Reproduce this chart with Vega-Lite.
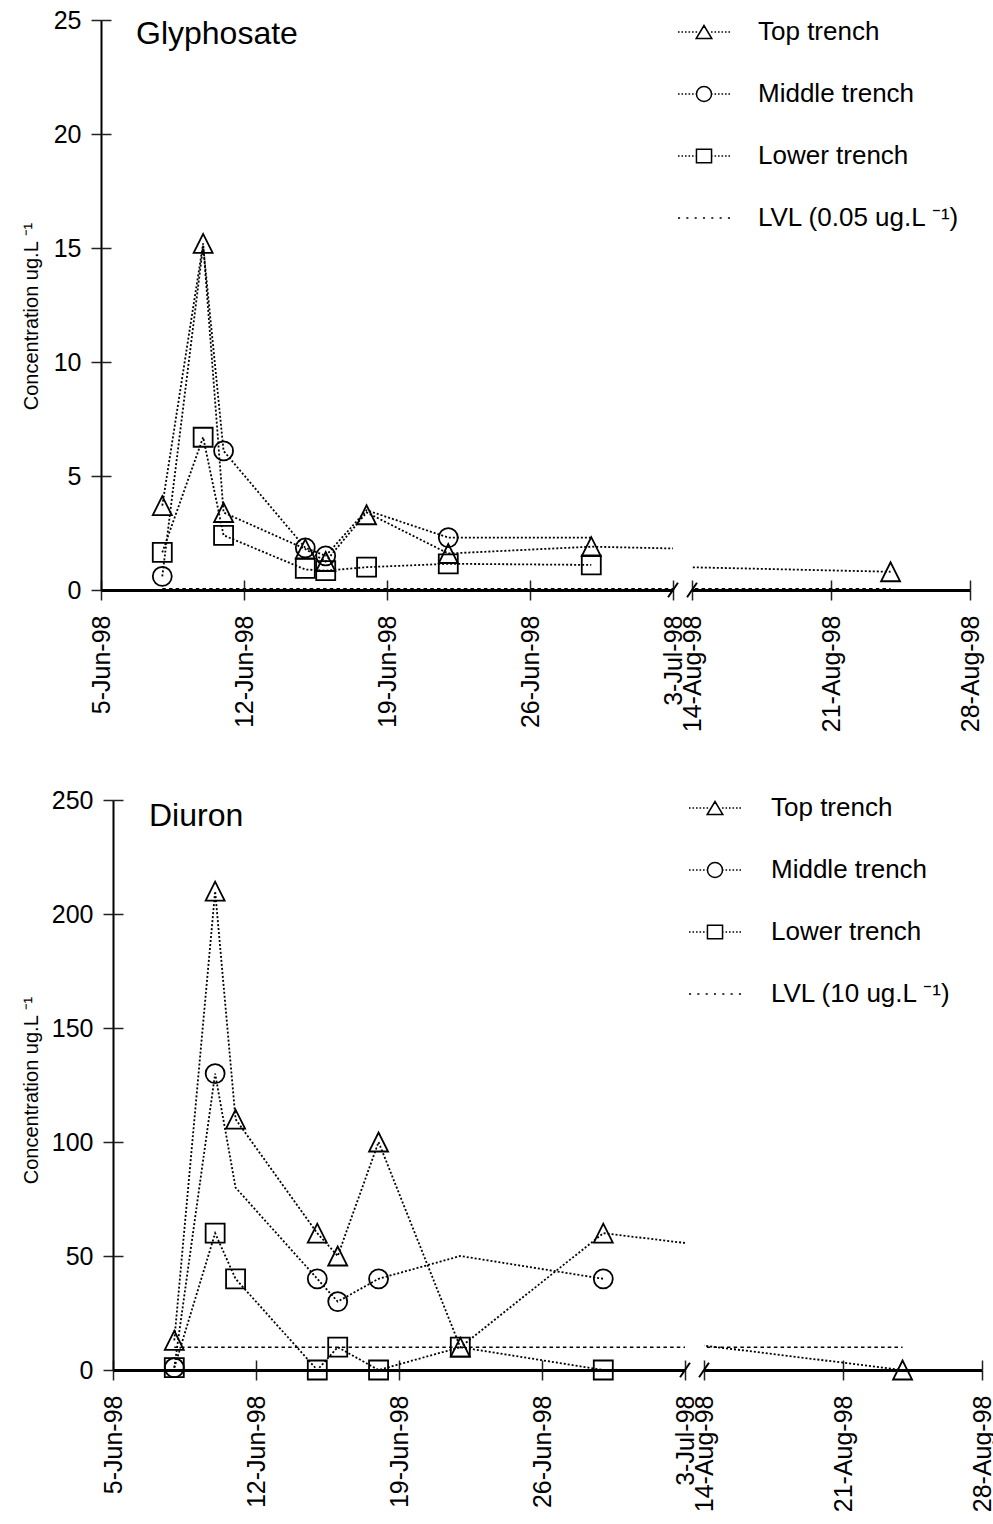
{
  "$schema": "https://vega.github.io/schema/vega-lite/v6.json",
  "background": "white",
  "padding": {"left": 21, "top": 5, "right": 0, "bottom": 0},
  "config": {
    "font": "Liberation Sans",
    "view": {"stroke": null},
    "axis": {
      "labelFont": "Liberation Sans", "labelFontSize": 25, "labelColor": "black",
      "domainColor": "black", "tickColor": "#222", "tickWidth": 1.5, "tickSize": 10,
      "grid": false, "titleFont": "Liberation Sans", "titleFontWeight": "normal", "titleColor": "black"
    },
    "legend": {"labelFont": "Liberation Sans", "labelFontSize": 26, "labelColor": "black", "labelLimit": 500}
  },
  "datasets": {
    "gly_lines": [
      {"series": "Top trench", "date": "1998-06-08", "value": 3.7},
      {"series": "Top trench", "date": "1998-06-10", "value": 15.2},
      {"series": "Top trench", "date": "1998-06-11", "value": 3.4},
      {"series": "Top trench", "date": "1998-06-15", "value": 1.8},
      {"series": "Top trench", "date": "1998-06-16", "value": 1.25},
      {"series": "Top trench", "date": "1998-06-18", "value": 3.4},
      {"series": "Top trench", "date": "1998-06-22", "value": 1.6},
      {"series": "Top trench", "date": "1998-06-29", "value": 1.9},
      {"series": "Top trench", "date": "1998-08-24", "value": 0.8},
      {"series": "Middle trench", "date": "1998-06-08", "value": 0.6},
      {"series": "Middle trench", "date": "1998-06-10", "value": 15.1},
      {"series": "Middle trench", "date": "1998-06-11", "value": 6.1},
      {"series": "Middle trench", "date": "1998-06-15", "value": 1.85},
      {"series": "Middle trench", "date": "1998-06-16", "value": 1.5},
      {"series": "Middle trench", "date": "1998-06-18", "value": 3.5},
      {"series": "Middle trench", "date": "1998-06-22", "value": 2.3},
      {"series": "Middle trench", "date": "1998-06-29", "value": 2.3},
      {"series": "Lower trench", "date": "1998-06-08", "value": 1.65},
      {"series": "Lower trench", "date": "1998-06-10", "value": 6.7},
      {"series": "Lower trench", "date": "1998-06-11", "value": 2.4},
      {"series": "Lower trench", "date": "1998-06-15", "value": 0.9},
      {"series": "Lower trench", "date": "1998-06-16", "value": 0.85},
      {"series": "Lower trench", "date": "1998-06-18", "value": 1.0},
      {"series": "Lower trench", "date": "1998-06-22", "value": 1.15},
      {"series": "Lower trench", "date": "1998-06-29", "value": 1.1}
    ],
    "gly_markers": [
      {"series": "Top trench", "date": "1998-06-08", "value": 3.7},
      {"series": "Top trench", "date": "1998-06-10", "value": 15.2},
      {"series": "Top trench", "date": "1998-06-11", "value": 3.4},
      {"series": "Top trench", "date": "1998-06-15", "value": 1.8},
      {"series": "Top trench", "date": "1998-06-16", "value": 1.25},
      {"series": "Top trench", "date": "1998-06-18", "value": 3.3},
      {"series": "Top trench", "date": "1998-06-22", "value": 1.6},
      {"series": "Top trench", "date": "1998-06-29", "value": 1.9},
      {"series": "Top trench", "date": "1998-08-24", "value": 0.8},
      {"series": "Middle trench", "date": "1998-06-08", "value": 0.6},
      {"series": "Middle trench", "date": "1998-06-11", "value": 6.1},
      {"series": "Middle trench", "date": "1998-06-15", "value": 1.85},
      {"series": "Middle trench", "date": "1998-06-16", "value": 1.5},
      {"series": "Middle trench", "date": "1998-06-22", "value": 2.3},
      {"series": "Lower trench", "date": "1998-06-08", "value": 1.65},
      {"series": "Lower trench", "date": "1998-06-10", "value": 6.7},
      {"series": "Lower trench", "date": "1998-06-11", "value": 2.4},
      {"series": "Lower trench", "date": "1998-06-15", "value": 0.95},
      {"series": "Lower trench", "date": "1998-06-16", "value": 0.85},
      {"series": "Lower trench", "date": "1998-06-18", "value": 1.0},
      {"series": "Lower trench", "date": "1998-06-22", "value": 1.15},
      {"series": "Lower trench", "date": "1998-06-29", "value": 1.1}
    ],
    "gly_lvl": [
      {"series": "LVL (0.05 ug.L ⁻¹)", "date": "1998-06-08", "value": 0.05},
      {"series": "LVL (0.05 ug.L ⁻¹)", "date": "1998-08-24", "value": 0.05}
    ],
    "diu_lines": [
      {"series": "Top trench", "date": "1998-06-08", "value": 13},
      {"series": "Top trench", "date": "1998-06-10", "value": 210},
      {"series": "Top trench", "date": "1998-06-11", "value": 110},
      {"series": "Top trench", "date": "1998-06-15", "value": 60},
      {"series": "Top trench", "date": "1998-06-16", "value": 50},
      {"series": "Top trench", "date": "1998-06-18", "value": 100},
      {"series": "Top trench", "date": "1998-06-22", "value": 10},
      {"series": "Top trench", "date": "1998-06-29", "value": 60},
      {"series": "Top trench", "date": "1998-08-24", "value": 0},
      {"series": "Middle trench", "date": "1998-06-08", "value": 1},
      {"series": "Middle trench", "date": "1998-06-10", "value": 130},
      {"series": "Middle trench", "date": "1998-06-11", "value": 80},
      {"series": "Middle trench", "date": "1998-06-15", "value": 40},
      {"series": "Middle trench", "date": "1998-06-16", "value": 30},
      {"series": "Middle trench", "date": "1998-06-18", "value": 40},
      {"series": "Middle trench", "date": "1998-06-22", "value": 50},
      {"series": "Middle trench", "date": "1998-06-29", "value": 40},
      {"series": "Lower trench", "date": "1998-06-08", "value": 1},
      {"series": "Lower trench", "date": "1998-06-10", "value": 60},
      {"series": "Lower trench", "date": "1998-06-11", "value": 40},
      {"series": "Lower trench", "date": "1998-06-15", "value": 0},
      {"series": "Lower trench", "date": "1998-06-16", "value": 10},
      {"series": "Lower trench", "date": "1998-06-18", "value": 0},
      {"series": "Lower trench", "date": "1998-06-22", "value": 10},
      {"series": "Lower trench", "date": "1998-06-29", "value": 0}
    ],
    "diu_markers": [
      {"series": "Top trench", "date": "1998-06-08", "value": 13},
      {"series": "Top trench", "date": "1998-06-10", "value": 210},
      {"series": "Top trench", "date": "1998-06-11", "value": 110},
      {"series": "Top trench", "date": "1998-06-15", "value": 60},
      {"series": "Top trench", "date": "1998-06-16", "value": 50},
      {"series": "Top trench", "date": "1998-06-18", "value": 100},
      {"series": "Top trench", "date": "1998-06-22", "value": 10},
      {"series": "Top trench", "date": "1998-06-29", "value": 60},
      {"series": "Top trench", "date": "1998-08-24", "value": 0},
      {"series": "Middle trench", "date": "1998-06-08", "value": 1},
      {"series": "Middle trench", "date": "1998-06-10", "value": 130},
      {"series": "Middle trench", "date": "1998-06-15", "value": 40},
      {"series": "Middle trench", "date": "1998-06-16", "value": 30},
      {"series": "Middle trench", "date": "1998-06-18", "value": 40},
      {"series": "Middle trench", "date": "1998-06-29", "value": 40},
      {"series": "Lower trench", "date": "1998-06-08", "value": 1},
      {"series": "Lower trench", "date": "1998-06-10", "value": 60},
      {"series": "Lower trench", "date": "1998-06-11", "value": 40},
      {"series": "Lower trench", "date": "1998-06-15", "value": 0},
      {"series": "Lower trench", "date": "1998-06-16", "value": 10},
      {"series": "Lower trench", "date": "1998-06-18", "value": 0},
      {"series": "Lower trench", "date": "1998-06-22", "value": 10},
      {"series": "Lower trench", "date": "1998-06-29", "value": 0}
    ],
    "diu_lvl": [
      {"series": "LVL (10 ug.L ⁻¹)", "date": "1998-06-08", "value": 10},
      {"series": "LVL (10 ug.L ⁻¹)", "date": "1998-08-24", "value": 10}
    ]
  },
  "concat": [
    {
      "hconcat": [
        {"width": 1, "height": 1, "data": {"values": []}, "mark": {"type": "point"}},
        {
          "width": 572, "height": 570,
          "title": {"text": "Glyphosate", "anchor": "start", "frame": "group", "dx": 35, "offset": -68, "baseline": "alphabetic", "fontSize": 32, "fontWeight": "normal", "color": "black", "font": "Liberation Sans"},
          "layer": [
            {
              "data": {"name": "gly_lines"},
              "mark": {"type": "line", "clip": true, "color": "black", "strokeWidth": 1.8, "strokeDash": [2, 2]},
              "encoding": {
                "x": {"field": "date", "type": "temporal",
                  "scale": {"type": "utc", "domain": [{"year": 1998, "month": 6, "date": 5, "utc": true}, {"year": 1998, "month": 7, "date": 3, "utc": true}]},
                  "axis": {"values": [{"year": 1998, "month": 6, "date": 5, "utc": true}, {"year": 1998, "month": 6, "date": 12, "utc": true}, {"year": 1998, "month": 6, "date": 19, "utc": true}, {"year": 1998, "month": 6, "date": 26, "utc": true}, {"year": 1998, "month": 7, "date": 3, "utc": true}],
                    "labelExpr": "utcFormat(datum.value, '%-d-%b-%y')", "labelAngle": -90, "labelFlush": false, "labelOverlap": false, "labelBound": false, "labelPadding": 15, "title": null, "domainWidth": 3}},
                "y": {"field": "value", "type": "quantitative",
                  "scale": {"domain": [0, 25], "nice": false},
                  "axis": {"values": [0, 5, 10, 15, 20, 25], "title": "Concentration ug.L ⁻¹", "titleFontSize": 20, "titlePadding": 12, "titleY": 296, "domainWidth": 2, "labelPadding": 10, "labelFlush": false, "labelOverlap": false}},
                "detail": {"field": "series"}
              }
            },
            {
              "data": {"name": "gly_lvl"},
              "mark": {"type": "line", "clip": true, "color": "black", "strokeWidth": 1.5, "strokeDash": [3.5, 3.2]},
              "encoding": {
                "x": {"field": "date", "type": "temporal",
                  "axis": {"orient": "bottom", "offset": -10, "domain": false, "labels": false, "tickSize": 10, "title": null, "values": [{"year": 1998, "month": 6, "date": 5, "utc": true}, {"year": 1998, "month": 6, "date": 12, "utc": true}, {"year": 1998, "month": 6, "date": 19, "utc": true}, {"year": 1998, "month": 6, "date": 26, "utc": true}, {"year": 1998, "month": 7, "date": 3, "utc": true}]}},
                "y": {"field": "value", "type": "quantitative",
                  "axis": {"orient": "left", "offset": -10, "domain": false, "labels": false, "tickSize": 10, "title": null, "values": [5, 10, 15, 20, 25]}}
              }
            },
            {
              "data": {"name": "gly_markers"},
              "transform": [{"filter": {"field": "date", "lte": {"year": 1998, "month": 7, "date": 3, "utc": true}}}],
              "mark": {"type": "point", "filled": false, "size": 361, "color": "black", "strokeWidth": 1.8, "opacity": 1},
              "encoding": {
                "x": {"field": "date", "type": "temporal", "axis": null},
                "y": {"field": "value", "type": "quantitative", "axis": null},
                "shape": {"field": "series", "type": "nominal", "scale": {"domain": ["Top trench", "Middle trench", "Lower trench"], "range": ["M0,-1L-1,1L1,1Z", "circle", "square"]}, "legend": null}
              }
            },
            {
              "data": {"values": [{}]},
              "mark": {"type": "point", "shape": "M-0.55,0.8L0.55,-0.8", "size": 324, "color": "black", "strokeWidth": 2, "filled": false, "opacity": 1},
              "encoding": {
                "x": {"datum": {"year": 1998, "month": 7, "date": 3, "utc": true}, "type": "temporal", "axis": null},
                "y": {"datum": 0, "type": "quantitative", "axis": null}
              }
            }
          ],
          "resolve": {"axis": {"x": "independent", "y": "independent"}}
        },
        {
          "width": 278, "height": 570,
          "layer": [
            {
              "data": {"name": "gly_lines"},
              "mark": {"type": "line", "clip": true, "color": "black", "strokeWidth": 1.8, "strokeDash": [2, 2]},
              "encoding": {
                "x": {"field": "date", "type": "temporal",
                  "scale": {"type": "utc", "domain": [{"year": 1998, "month": 8, "date": 14, "utc": true}, {"year": 1998, "month": 8, "date": 28, "utc": true}]},
                  "axis": {"values": [{"year": 1998, "month": 8, "date": 14, "utc": true}, {"year": 1998, "month": 8, "date": 21, "utc": true}, {"year": 1998, "month": 8, "date": 28, "utc": true}],
                    "labelExpr": "utcFormat(datum.value, '%-d-%b-%y')", "labelAngle": -90, "labelFlush": false, "labelOverlap": false, "labelBound": false, "labelPadding": 15, "title": null, "domainWidth": 3}},
                "y": {"field": "value", "type": "quantitative", "scale": {"domain": [0, 25], "nice": false}, "axis": null},
                "detail": {"field": "series"}
              }
            },
            {
              "data": {"name": "gly_lvl"},
              "mark": {"type": "line", "clip": true, "color": "black", "strokeWidth": 1.5, "strokeDash": [3.5, 3.2]},
              "encoding": {
                "x": {"field": "date", "type": "temporal",
                  "axis": {"orient": "bottom", "offset": -10, "domain": false, "labels": false, "tickSize": 10, "title": null, "values": [{"year": 1998, "month": 8, "date": 14, "utc": true}, {"year": 1998, "month": 8, "date": 21, "utc": true}, {"year": 1998, "month": 8, "date": 28, "utc": true}]}},
                "y": {"field": "value", "type": "quantitative", "axis": null}
              }
            },
            {
              "data": {"name": "gly_markers"},
              "transform": [{"filter": {"field": "date", "gte": {"year": 1998, "month": 8, "date": 14, "utc": true}}}],
              "mark": {"type": "point", "filled": false, "size": 361, "color": "black", "strokeWidth": 1.8, "opacity": 1},
              "encoding": {
                "x": {"field": "date", "type": "temporal", "axis": null},
                "y": {"field": "value", "type": "quantitative", "axis": null},
                "shape": {"field": "series", "type": "nominal", "scale": {"domain": ["Top trench", "Middle trench", "Lower trench"], "range": ["M0,-1L-1,1L1,1Z", "circle", "square"]}, "legend": null}
              }
            },
            {
              "data": {"values": []},
              "mark": {"type": "point", "filled": false, "color": "black", "strokeWidth": 1.4, "opacity": 1},
              "encoding": {
                "shape": {"field": "series", "type": "nominal",
                  "scale": {"domain": ["Top trench", "Middle trench", "Lower trench", "LVL (0.05 ug.L ⁻¹)"],
                    "range": [
                      "M-1,0h0.06M-0.865,0h0.06M-0.73,0h0.06M-0.595,0h0.06M-0.46,0h0.06M-0.325,0h0.06M0.27,0h0.06M0.405,0h0.06M0.54,0h0.06M0.675,0h0.06M0.81,0h0.06M0.94,0h0.06M0,-0.25L-0.3,0.25L0.3,0.25Z",
                      "M-1,0h0.06M-0.865,0h0.06M-0.73,0h0.06M-0.595,0h0.06M-0.46,0h0.06M-0.325,0h0.06M0.27,0h0.06M0.405,0h0.06M0.54,0h0.06M0.675,0h0.06M0.81,0h0.06M0.94,0h0.06M0.29,0A0.29,0.29,0,1,1,-0.29,0A0.29,0.29,0,1,1,0.29,0Z",
                      "M-1,0h0.06M-0.865,0h0.06M-0.73,0h0.06M-0.595,0h0.06M-0.46,0h0.06M-0.325,0h0.06M0.27,0h0.06M0.405,0h0.06M0.54,0h0.06M0.675,0h0.06M0.81,0h0.06M0.94,0h0.06M-0.29,-0.26H0.29V0.26H-0.29Z",
                      "M-1,0h0.08M-0.68,0h0.08M-0.36,0h0.08M-0.04,0h0.08M0.28,0h0.08M0.6,0h0.08M0.92,0h0.08"
                    ]},
                  "legend": {"title": null, "orient": "none", "legendX": -15, "legendY": -15, "padding": 0, "symbolSize": 2704, "labelOffset": 27, "rowPadding": 22,
                    "encode": {"symbols": {"update": {"size": {"value": 2704}, "stroke": {"value": "black"}, "fill": {"value": "transparent"}, "strokeWidth": {"value": 1.4}, "opacity": {"value": 1}}}}}
                }
              }
            },
            {
              "data": {"values": [{}]},
              "mark": {"type": "point", "shape": "M-0.55,0.8L0.55,-0.8", "size": 324, "color": "black", "strokeWidth": 2, "filled": false, "opacity": 1},
              "encoding": {
                "x": {"datum": {"year": 1998, "month": 8, "date": 14, "utc": true}, "type": "temporal", "axis": null},
                "y": {"datum": 0, "type": "quantitative", "axis": null}
              }
            }
          ],
          "resolve": {"axis": {"x": "independent", "y": "independent"}, "scale": {"shape": "independent"}}
        }
      ],
      "spacing": 19,
      "bounds": "flush",
      "resolve": {"scale": {"x": "independent", "y": "independent", "shape": "independent"}, "legend": {"shape": "independent"}}
    },
    {
      "hconcat": [
        {"width": 13, "height": 1, "data": {"values": []}, "mark": {"type": "point"}},
        {
          "width": 572, "height": 570,
          "title": {"text": "Diuron", "anchor": "start", "frame": "group", "dx": 36, "offset": -70, "baseline": "alphabetic", "fontSize": 32, "fontWeight": "normal", "color": "black", "font": "Liberation Sans"},
          "layer": [
            {
              "data": {"name": "diu_lines"},
              "mark": {"type": "line", "clip": true, "color": "black", "strokeWidth": 1.8, "strokeDash": [2, 2]},
              "encoding": {
                "x": {"field": "date", "type": "temporal",
                  "scale": {"type": "utc", "domain": [{"year": 1998, "month": 6, "date": 5, "utc": true}, {"year": 1998, "month": 7, "date": 3, "utc": true}]},
                  "axis": {"values": [{"year": 1998, "month": 6, "date": 5, "utc": true}, {"year": 1998, "month": 6, "date": 12, "utc": true}, {"year": 1998, "month": 6, "date": 19, "utc": true}, {"year": 1998, "month": 6, "date": 26, "utc": true}, {"year": 1998, "month": 7, "date": 3, "utc": true}],
                    "labelExpr": "utcFormat(datum.value, '%-d-%b-%y')", "labelAngle": -90, "labelFlush": false, "labelOverlap": false, "labelBound": false, "labelPadding": 15, "title": null, "domainWidth": 3}},
                "y": {"field": "value", "type": "quantitative",
                  "scale": {"domain": [0, 250], "nice": false},
                  "axis": {"values": [0, 50, 100, 150, 200, 250], "title": "Concentration ug.L ⁻¹", "titleFontSize": 20, "titlePadding": 10, "titleY": 290, "domainWidth": 2, "labelPadding": 10, "labelFlush": false, "labelOverlap": false}},
                "detail": {"field": "series"}
              }
            },
            {
              "data": {"name": "diu_lvl"},
              "mark": {"type": "line", "clip": true, "color": "black", "strokeWidth": 1.5, "strokeDash": [3.5, 3.2]},
              "encoding": {
                "x": {"field": "date", "type": "temporal",
                  "axis": {"orient": "bottom", "offset": -10, "domain": false, "labels": false, "tickSize": 10, "title": null, "values": [{"year": 1998, "month": 6, "date": 5, "utc": true}, {"year": 1998, "month": 6, "date": 12, "utc": true}, {"year": 1998, "month": 6, "date": 19, "utc": true}, {"year": 1998, "month": 6, "date": 26, "utc": true}, {"year": 1998, "month": 7, "date": 3, "utc": true}]}},
                "y": {"field": "value", "type": "quantitative",
                  "axis": {"orient": "left", "offset": -10, "domain": false, "labels": false, "tickSize": 10, "title": null, "values": [50, 100, 150, 200, 250]}}
              }
            },
            {
              "data": {"name": "diu_markers"},
              "transform": [{"filter": {"field": "date", "lte": {"year": 1998, "month": 7, "date": 3, "utc": true}}}],
              "mark": {"type": "point", "filled": false, "size": 361, "color": "black", "strokeWidth": 1.8, "opacity": 1},
              "encoding": {
                "x": {"field": "date", "type": "temporal", "axis": null},
                "y": {"field": "value", "type": "quantitative", "axis": null},
                "shape": {"field": "series", "type": "nominal", "scale": {"domain": ["Top trench", "Middle trench", "Lower trench"], "range": ["M0,-1L-1,1L1,1Z", "circle", "square"]}, "legend": null}
              }
            },
            {
              "data": {"values": [{}]},
              "mark": {"type": "point", "shape": "M-0.55,0.8L0.55,-0.8", "size": 324, "color": "black", "strokeWidth": 2, "filled": false, "opacity": 1},
              "encoding": {
                "x": {"datum": {"year": 1998, "month": 7, "date": 3, "utc": true}, "type": "temporal", "axis": null},
                "y": {"datum": 0, "type": "quantitative", "axis": null}
              }
            }
          ],
          "resolve": {"axis": {"x": "independent", "y": "independent"}}
        },
        {
          "width": 278, "height": 570,
          "layer": [
            {
              "data": {"name": "diu_lines"},
              "mark": {"type": "line", "clip": true, "color": "black", "strokeWidth": 1.8, "strokeDash": [2, 2]},
              "encoding": {
                "x": {"field": "date", "type": "temporal",
                  "scale": {"type": "utc", "domain": [{"year": 1998, "month": 8, "date": 14, "utc": true}, {"year": 1998, "month": 8, "date": 28, "utc": true}]},
                  "axis": {"values": [{"year": 1998, "month": 8, "date": 14, "utc": true}, {"year": 1998, "month": 8, "date": 21, "utc": true}, {"year": 1998, "month": 8, "date": 28, "utc": true}],
                    "labelExpr": "utcFormat(datum.value, '%-d-%b-%y')", "labelAngle": -90, "labelFlush": false, "labelOverlap": false, "labelBound": false, "labelPadding": 15, "title": null, "domainWidth": 3}},
                "y": {"field": "value", "type": "quantitative", "scale": {"domain": [0, 250], "nice": false}, "axis": null},
                "detail": {"field": "series"}
              }
            },
            {
              "data": {"name": "diu_lvl"},
              "mark": {"type": "line", "clip": true, "color": "black", "strokeWidth": 1.5, "strokeDash": [3.5, 3.2]},
              "encoding": {
                "x": {"field": "date", "type": "temporal",
                  "axis": {"orient": "bottom", "offset": -10, "domain": false, "labels": false, "tickSize": 10, "title": null, "values": [{"year": 1998, "month": 8, "date": 14, "utc": true}, {"year": 1998, "month": 8, "date": 21, "utc": true}, {"year": 1998, "month": 8, "date": 28, "utc": true}]}},
                "y": {"field": "value", "type": "quantitative", "axis": null}
              }
            },
            {
              "data": {"name": "diu_markers"},
              "transform": [{"filter": {"field": "date", "gte": {"year": 1998, "month": 8, "date": 14, "utc": true}}}],
              "mark": {"type": "point", "filled": false, "size": 361, "color": "black", "strokeWidth": 1.8, "opacity": 1},
              "encoding": {
                "x": {"field": "date", "type": "temporal", "axis": null},
                "y": {"field": "value", "type": "quantitative", "axis": null},
                "shape": {"field": "series", "type": "nominal", "scale": {"domain": ["Top trench", "Middle trench", "Lower trench"], "range": ["M0,-1L-1,1L1,1Z", "circle", "square"]}, "legend": null}
              }
            },
            {
              "data": {"values": []},
              "mark": {"type": "point", "filled": false, "color": "black", "strokeWidth": 1.4, "opacity": 1},
              "encoding": {
                "shape": {"field": "series", "type": "nominal",
                  "scale": {"domain": ["Top trench", "Middle trench", "Lower trench", "LVL (10 ug.L ⁻¹)"],
                    "range": [
                      "M-1,0h0.06M-0.865,0h0.06M-0.73,0h0.06M-0.595,0h0.06M-0.46,0h0.06M-0.325,0h0.06M0.27,0h0.06M0.405,0h0.06M0.54,0h0.06M0.675,0h0.06M0.81,0h0.06M0.94,0h0.06M0,-0.25L-0.3,0.25L0.3,0.25Z",
                      "M-1,0h0.06M-0.865,0h0.06M-0.73,0h0.06M-0.595,0h0.06M-0.46,0h0.06M-0.325,0h0.06M0.27,0h0.06M0.405,0h0.06M0.54,0h0.06M0.675,0h0.06M0.81,0h0.06M0.94,0h0.06M0.29,0A0.29,0.29,0,1,1,-0.29,0A0.29,0.29,0,1,1,0.29,0Z",
                      "M-1,0h0.06M-0.865,0h0.06M-0.73,0h0.06M-0.595,0h0.06M-0.46,0h0.06M-0.325,0h0.06M0.27,0h0.06M0.405,0h0.06M0.54,0h0.06M0.675,0h0.06M0.81,0h0.06M0.94,0h0.06M-0.29,-0.26H0.29V0.26H-0.29Z",
                      "M-1,0h0.08M-0.68,0h0.08M-0.36,0h0.08M-0.04,0h0.08M0.28,0h0.08M0.6,0h0.08M0.92,0h0.08"
                    ]},
                  "legend": {"title": null, "orient": "none", "legendX": -16, "legendY": -19, "padding": 0, "symbolSize": 2704, "labelOffset": 29, "rowPadding": 22,
                    "encode": {"symbols": {"update": {"size": {"value": 2704}, "stroke": {"value": "black"}, "fill": {"value": "transparent"}, "strokeWidth": {"value": 1.4}, "opacity": {"value": 1}}}}}
                }
              }
            },
            {
              "data": {"values": [{}]},
              "mark": {"type": "point", "shape": "M-0.55,0.8L0.55,-0.8", "size": 324, "color": "black", "strokeWidth": 2, "filled": false, "opacity": 1},
              "encoding": {
                "x": {"datum": {"year": 1998, "month": 8, "date": 14, "utc": true}, "type": "temporal", "axis": null},
                "y": {"datum": 0, "type": "quantitative", "axis": null}
              }
            }
          ],
          "resolve": {"axis": {"x": "independent", "y": "independent"}, "scale": {"shape": "independent"}}
        }
      ],
      "spacing": 19,
      "bounds": "flush",
      "resolve": {"scale": {"x": "independent", "y": "independent", "shape": "independent"}, "legend": {"shape": "independent"}}
    }
  ],
  "columns": 1,
  "spacing": 49,
  "resolve": {"scale": {"x": "independent", "y": "independent", "shape": "independent"}, "legend": {"shape": "independent"}}
}
